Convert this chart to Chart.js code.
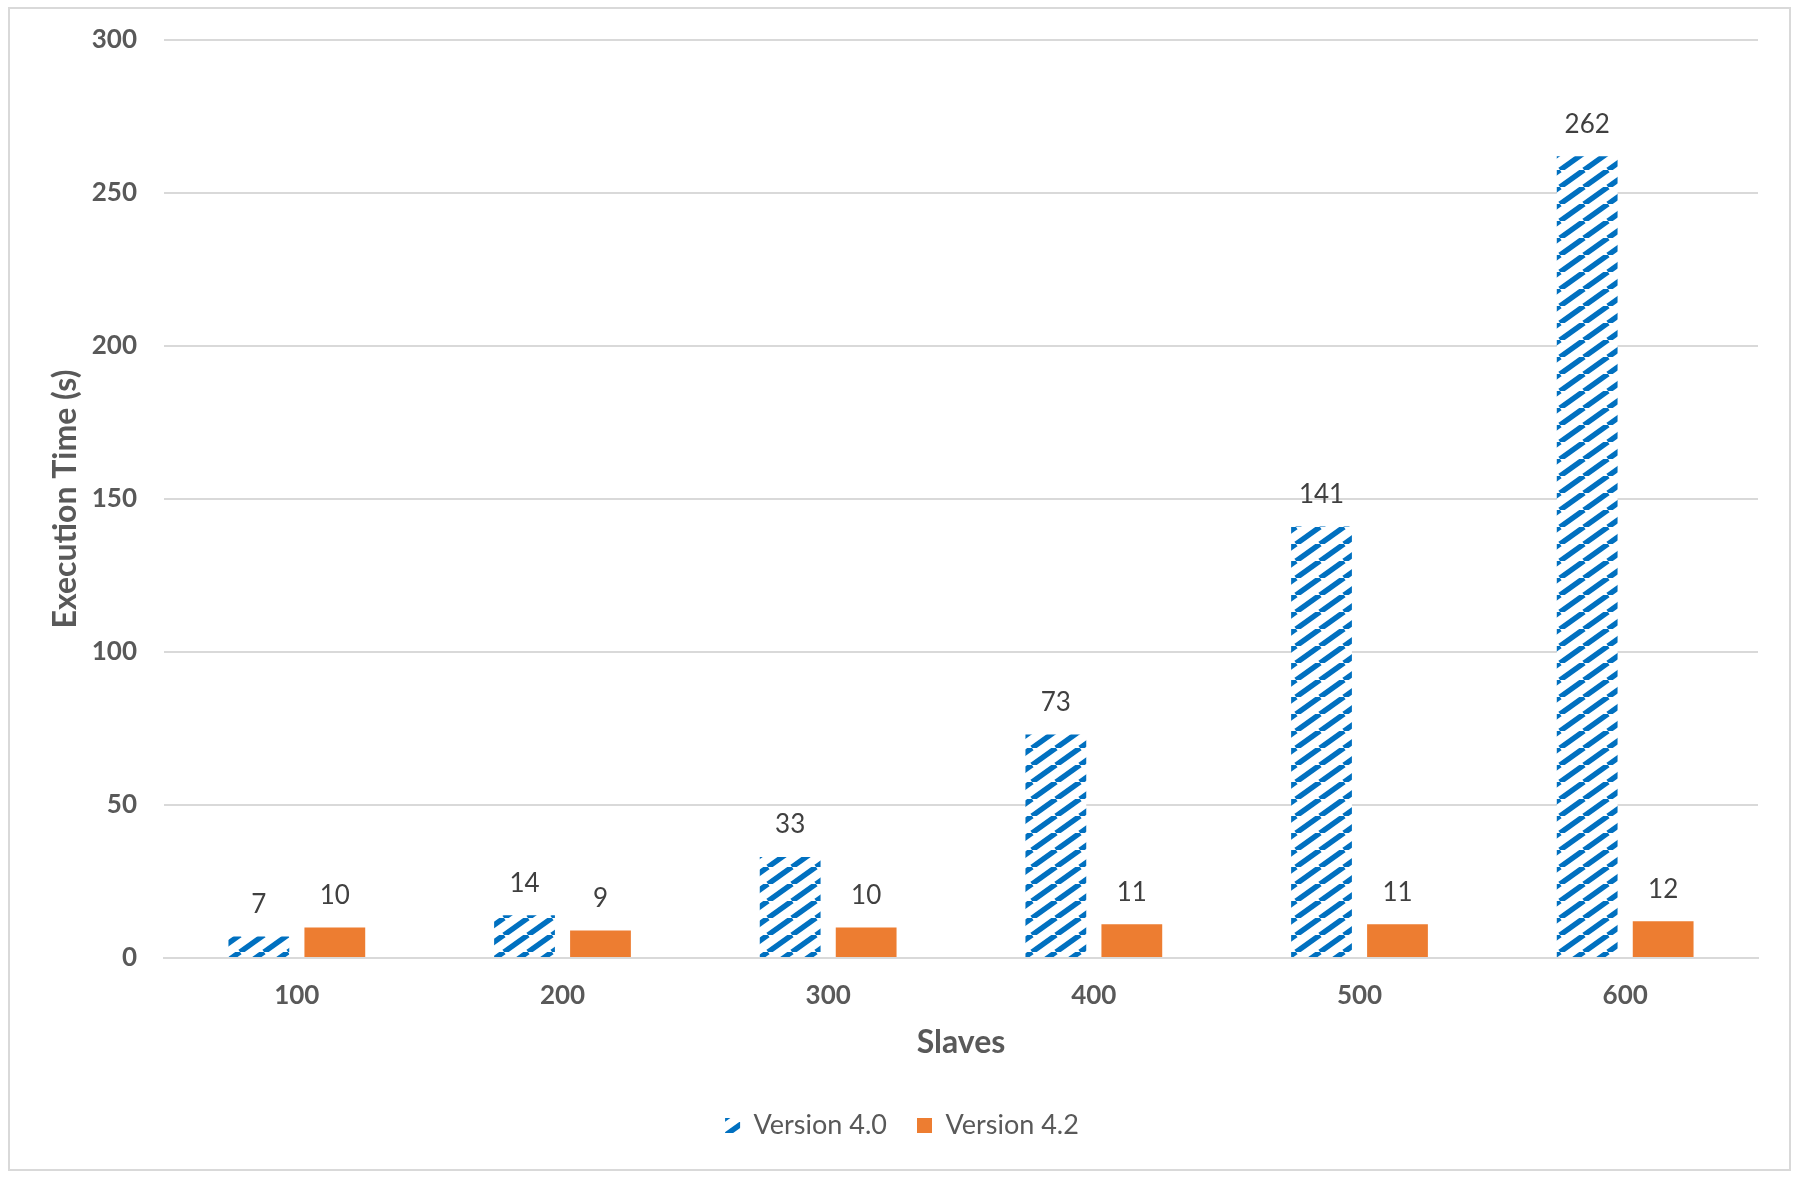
<!DOCTYPE html>
<html>
<head>
<meta charset="utf-8">
<script src="https://cdn.jsdelivr.net/npm/chart.js@4/dist/chart.umd.min.js"></script>
<style>
  html, body { margin: 0; padding: 0; background: #ffffff; }
  #wrap { position: relative; width: 1800px; height: 1181px; }
  canvas { display: block; }
</style>
</head>
<body>
<div id="wrap"><canvas id="c" width="1800" height="1181"></canvas></div>
<script>
const categories = ['100', '200', '300', '400', '500', '600'];
const version40 = [7, 14, 33, 73, 141, 262];
const version42 = [10, 9, 10, 11, 11, 12];
const seriesNames = ['Version 4.0', 'Version 4.2'];
const yTicks = [0, 50, 100, 150, 200, 250, 300];
const xTitle = 'Slaves';
const yTitle = 'Execution Time (s)';

const BLUE = '#0070C0';
const ORANGE = '#ED7D31';
const FONT = 'Lato, "Open Sans", sans-serif';

function makeHatch() {
  const w = 24, h = 17;
  const pc = document.createElement('canvas');
  pc.width = w; pc.height = h;
  const g = pc.getContext('2d');
  g.fillStyle = '#ffffff';
  g.fillRect(0, 0, w, h);
  g.strokeStyle = BLUE;
  g.lineWidth = 5.5;
  g.lineCap = 'butt';
  for (const off of [-w, 0, w]) {
    g.beginPath();
    g.moveTo(off, h);
    g.lineTo(off + w, 0);
    g.stroke();
  }
  const ctx = document.getElementById('c').getContext('2d');
  return ctx.createPattern(pc, 'repeat');
}
const hatch = makeHatch();

const frame = {
  id: 'frame',
  beforeDraw(chart) {
    const c = chart.ctx;
    c.save();
    c.fillStyle = '#ffffff';
    c.fillRect(0, 0, chart.width, chart.height);
    c.strokeStyle = '#d9d9d9';
    c.lineWidth = 2;
    c.strokeRect(9, 8, 1781, 1162);
    c.restore();
  }
};

const valueLabels = {
  id: 'valueLabels',
  afterDatasetsDraw(chart) {
    const c = chart.ctx;
    c.save();
    c.font = '26px ' + FONT;
    c.fillStyle = '#404040';
    c.textAlign = 'center';
    c.textBaseline = 'middle';
    chart.data.datasets.forEach((ds, di) => {
      const meta = chart.getDatasetMeta(di);
      meta.data.forEach((bar, i) => {
        c.fillText(String(ds.data[i]), bar.x, bar.y - 32);
      });
    });
    c.restore();
  }
};

new Chart(document.getElementById('c'), {
  type: 'bar',
  data: {
    labels: categories,
    datasets: [
      { label: seriesNames[0], data: version40, backgroundColor: hatch, borderWidth: 0 },
      { label: seriesNames[1], data: version42, backgroundColor: ORANGE, borderWidth: 0 }
    ]
  },
  options: {
    responsive: false,
    animation: false,
    devicePixelRatio: 1,
    categoryPercentage: 0.572,
    barPercentage: 0.8,
    layout: { padding: { left: 46, right: 42, top: 20, bottom: 32 } },
    plugins: {
      legend: {
        position: 'bottom',
        labels: {
          font: { family: FONT, size: 27 },
          color: '#595959',
          boxWidth: 15,
          boxHeight: 15,
          padding: 30
        }
      },
      tooltip: { enabled: false }
    },
    scales: {
      x: {
        grid: { display: false, drawTicks: false },
        border: { display: true, color: '#d9d9d9', width: 2 },
        ticks: { font: { family: FONT, size: 26, weight: 'bold' }, color: '#595959', padding: 22 },
        title: { display: true, text: xTitle, font: { family: FONT, size: 32, weight: 'bold' }, color: '#595959', padding: { top: 0, bottom: 20 } },
        afterFit(s) { s.height = 124; }
      },
      y: {
        min: 0, max: 300,
        afterBuildTicks(s) { s.ticks = yTicks.map(v => ({ value: v })); },
        grid: { color: '#d9d9d9', lineWidth: 2, drawTicks: false },
        border: { display: false },
        ticks: { font: { family: FONT, size: 26, weight: 'bold', lineHeight: 1.0 }, color: '#595959', padding: 27 },
        title: { display: true, text: yTitle, font: { family: FONT, size: 32, weight: 'bold' }, color: '#595959', padding: 0 },
        afterFit(s) { s.width = 118; }
      }
    }
  },
  plugins: [frame, valueLabels]
});
</script>
</body>
</html>
